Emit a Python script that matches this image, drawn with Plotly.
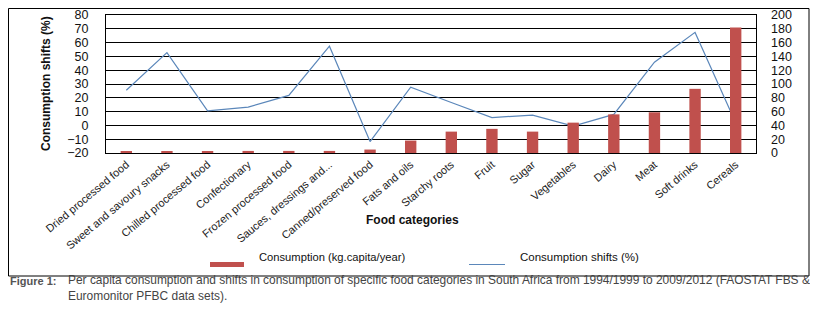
import plotly.graph_objects as go

categories = ["Dried processed food", "Sweet and savoury snacks", "Chilled processed food",
              "Confectionary", "Frozen processed food", "Sauces, dressings and...",
              "Canned/preserved food", "Fats and oils", "Starchy roots", "Fruit", "Sugar",
              "Vegetables", "Dairy", "Meat", "Soft drinks", "Cereals"]
consumption = [2, 2, 2, 3, 3, 3, 5, 18, 31, 35, 31, 44, 56, 59, 93, 182]
shifts = [25.5, 52.8, 10.5, 13.3, 21.7, 57.4, -11.7, 27.7, 16.6, 5.7, 7.5, -0.5, 8, 45.8, 67.4, 2]
left_ticks = list(range(-20, 81, 10))
right_ticks = list(range(0, 201, 20))

# page has an 8px body margin on every side; work in page pixels and convert
O = 8
W, H = 818 - O, 320 - 2 * O
L, T = 106 - O, 15 - O
R = W - (756 - O)
B = H - (153 - O)
PW, PH = W - L - R, H - T - B

def px(x):
    return (x - O - L) / PW

def py(y):
    return (H - B - (y - O)) / PH

BAR = "#c0504d"
LINE = "#5b87ba"
SANS = "Liberation Sans, Arial, sans-serif"

fig = go.Figure()
fig.add_trace(go.Bar(x=categories, y=consumption, yaxis="y2", marker_color=BAR,
                     marker_line_width=0, name="Consumption (kg.capita/year)", showlegend=False))
fig.add_trace(go.Scatter(x=categories, y=shifts, mode="lines", line=dict(color=LINE, width=1.2),
                         name="Consumption shifts (%)", showlegend=False))

fig.update_layout(
    width=W, height=H,
    margin=dict(l=L, r=R, t=T, b=B, autoexpand=False),
    paper_bgcolor="white", plot_bgcolor="white",
    bargap=0.72,
    font=dict(family=SANS, color="#111"),
    xaxis=dict(tickangle=-40, tickfont=dict(family=SANS, size=11, color="#222"),
               showgrid=False, showline=True, linecolor="black", linewidth=1, mirror=True,
               ticks="", zeroline=False, automargin=False),
    yaxis=dict(range=[-20, 80], tickvals=left_ticks, showgrid=True, gridcolor="black", gridwidth=1,
               showline=True, linecolor="black", mirror=True, zeroline=False, ticks="",
               tickfont=dict(size=12.5, color="#111"), ticklabelstandoff=14, automargin=False),
    yaxis2=dict(range=[0, 200], tickvals=right_ticks, overlaying="y", side="right",
                showgrid=False, zeroline=False, ticks="", showline=False,
                tickfont=dict(size=12.5, color="#111"), ticklabelstandoff=14, automargin=False),
)

shapes = [
    dict(type="rect", xref="paper", yref="paper", x0=px(8.5), x1=px(809), y0=py(276), y1=py(8.5),
         line=dict(color="black", width=1), fillcolor="rgba(0,0,0,0)", layer="below"),
    dict(type="rect", xref="paper", yref="paper", x0=px(210), x1=px(244), y0=py(267), y1=py(262),
         line=dict(width=0), fillcolor=BAR),
    dict(type="line", xref="paper", yref="paper", x0=px(469), x1=px(505), y0=py(264.5), y1=py(264.5),
         line=dict(color=LINE, width=1.2)),
]
annotations = [
    dict(text="<b>Consumption shifts (%)</b>", textangle=-90, x=px(37), y=py(84), xref="paper", yref="paper",
         showarrow=False, font=dict(family=SANS, size=12, color="#111")),
    dict(text="<b>Food categories</b>", x=px(412), y=py(229), xref="paper", yref="paper",
         showarrow=False, font=dict(family=SANS, size=12, color="#111")),
    dict(text="Consumption (kg.capita/year)", x=px(257), y=py(265), xref="paper", yref="paper",
         xanchor="left", showarrow=False, font=dict(family=SANS, size=11.2, color="#111")),
    dict(text="Consumption shifts (%)", x=px(518), y=py(265), xref="paper", yref="paper",
         xanchor="left", showarrow=False, font=dict(family=SANS, size=11.5, color="#111")),
    dict(text="<b>Figure 1:</b>", x=px(8), y=py(289), xref="paper", yref="paper",
         xanchor="left", showarrow=False, font=dict(family=SANS, size=11, color="#555")),
    dict(text="Per capita consumption and shifts in consumption of specific food categories in South Africa from 1994/1999 to 2009/2012 (FAOSTAT FBS &",
         x=px(66), y=py(289), xref="paper", yref="paper",
         xanchor="left", showarrow=False, font=dict(family=SANS, size=11.95, color="#444")),
    dict(text="Euromonitor PFBC data sets).",
         x=px(66), y=py(305), xref="paper", yref="paper",
         xanchor="left", showarrow=False, font=dict(family=SANS, size=11.95, color="#444")),
]
fig.update_layout(shapes=shapes, annotations=annotations)

fig.write_html("out.html")
